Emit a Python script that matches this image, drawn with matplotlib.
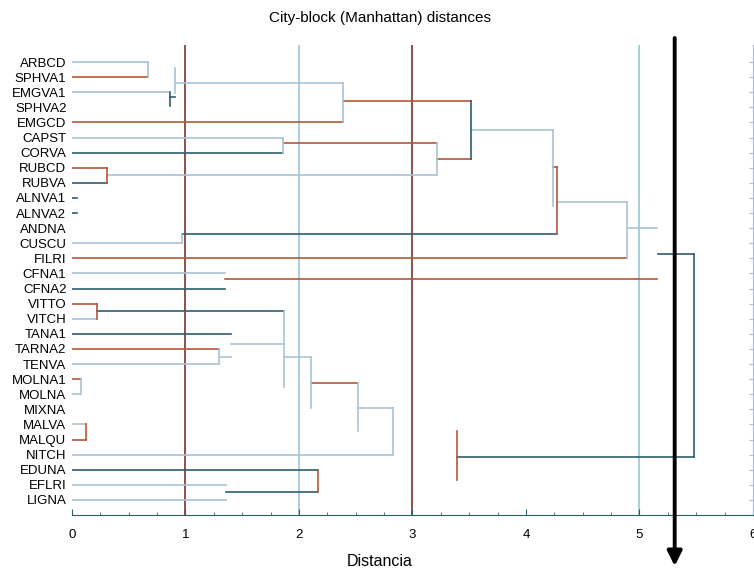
import matplotlib
matplotlib.use("Agg")
import matplotlib.pyplot as plt
from matplotlib.ticker import MultipleLocator

plt.rcParams['font.family'] = ['Liberation Sans', 'DejaVu Sans']

# leaves, top to bottom, and the distance at which each leaf line ends
labels = ['ARBCD', 'SPHVA1', 'EMGVA1', 'SPHVA2', 'EMGCD', 'CAPST', 'CORVA',
          'RUBCD', 'RUBVA', 'ALNVA1', 'ALNVA2', 'ANDNA', 'CUSCU', 'FILRI',
          'CFNA1', 'CFNA2', 'VITTO', 'VITCH', 'TANA1', 'TARNA2', 'TENVA',
          'MOLNA1', 'MOLNA', 'MIXNA', 'MALVA', 'MALQU', 'NITCH', 'EDUNA',
          'EFLRI', 'LIGNA']
leaf_dist = [0.667, 0.667, 0.846, 0.0, 2.388, 1.859, 1.859,
             0.308, 0.308, 0.04, 0.04, 0.0, 0.967, 4.887,
             1.348, 1.348, 0.218, 0.218, 1.398, 1.298, 1.298,
             0.079, 0.079, 0.0, 0.120, 0.120, 2.830, 2.170,
             1.357, 1.357]
leaf_col = 'lrllrldrddddlrldrldrlrlllrldll'

# horizontal links: (leaf position, from distance, to distance)
links_h = [(2.32, 0.864, 0.907), (1.37, 0.907, 2.388), (2.58, 2.388, 3.515),
           (6.42, 3.212, 3.515), (5.38, 1.859, 3.212), (7.48, 0.308, 3.212),
           (4.50, 3.515, 4.235), (6.97, 4.235, 4.273), (11.39, 0.967, 4.273),
           (9.25, 4.273, 4.887), (11.01, 4.887, 5.152), (12.72, 5.161, 5.483),
           (26.14, 3.395, 5.483), (14.39, 1.348, 5.152), (16.47, 0.218, 1.868),
           (19.52, 1.298, 1.398), (18.70, 1.398, 1.868), (19.52, 1.868, 2.103),
           (21.28, 2.103, 2.522), (22.89, 2.522, 2.830), (28.50, 1.357, 2.170)]
links_h_col = 'dlrrrllrdllddrd' + 'lllrld'

# vertical links: (distance, from position, to position)
links_v = [(0.667, 0, 1), (0.864, 1.99, 2.91), (0.907, 0.40, 2.05),
           (2.388, 1.37, 4), (3.515, 2.58, 6.42), (3.212, 5.38, 7.44),
           (1.859, 5, 6), (0.308, 7, 8), (4.235, 4.50, 9.52),
           (4.273, 6.97, 11.39), (0.967, 11.39, 12), (4.887, 9.25, 13),
           (5.483, 12.72, 26.14), (3.395, 24.42, 27.68), (0.218, 16, 17),
           (1.868, 16.47, 21.50), (1.298, 19, 20), (2.103, 19.52, 22.93),
           (2.522, 21.28, 24.42), (2.830, 22.89, 26), (0.079, 21, 22),
           (0.120, 24, 25), (2.170, 27, 28.50)]
links_v_col = 'ldlldllrlrlldrrllllllrr'

ref_lines = [1, 2, 3, 5]
ref_col = 'rlrl'
cut_distance = 5.31

colors = {'r': '#b5573a', 'd': '#2f5d6e', 'l': '#a9c5d3'}
ref_colors = {'r': '#7d3426', 'l': '#9ec3d6'}

fig = plt.figure(figsize=(7.54, 5.71), dpi=100)
ax = fig.add_axes([72 / 754, 1 - 515 / 571, 681 / 754, 470 / 571])

for xv, c in zip(ref_lines, ref_col):
    ax.axvline(xv, color=ref_colors[c], lw=1.2, zorder=1)

for i, (d, c) in enumerate(zip(leaf_dist, leaf_col)):
    if d > 0:
        ax.plot([0, d], [i, i], color=colors[c], lw=1.2, zorder=2)

for (y, x0, x1), c in zip(links_h, links_h_col):
    ax.plot([x0, x1], [y, y], color=colors[c], lw=1.2, zorder=2)

for (x, y0, y1), c in zip(links_v, links_v_col):
    ax.plot([x, x], [y0, y1], color=colors[c], lw=1.2, zorder=2)

ax.set_xlim(0, 6)
ax.set_ylim(30.0, -1.13)
ax.set_yticks(range(len(labels)))
ax.set_yticklabels(labels, fontsize=9.5)
ax.tick_params(axis='y', left=False, right=True, direction='in', length=3,
               color='#9ec3d6', pad=4, labelcolor='black')
ax.xaxis.set_major_locator(MultipleLocator(1))
ax.xaxis.set_minor_locator(MultipleLocator(0.25))
ax.tick_params(axis='x', which='major', direction='in', length=4,
               color='#2f5d6e', labelsize=9.5, pad=10)
ax.tick_params(axis='x', which='minor', direction='in', length=2,
               color='#2f5d6e')

for side in ['top', 'left']:
    ax.spines[side].set_visible(False)
ax.spines['right'].set_color('#9ec3d6')
ax.spines['bottom'].set_color('#2f5d6e')

fig.text(380 / 754, 1 - 18 / 571, 'City-block (Manhattan) distances',
         ha='center', va='center', fontsize=11)
fig.text(380 / 754, 1 - 562 / 571, 'Distancia', ha='center', va='center',
         fontsize=11.5)

ax.annotate('', xy=(cut_distance, 1 - 566 / 571),
            xytext=(cut_distance, 1 - 38 / 571),
            xycoords=('data', 'figure fraction'),
            textcoords=('data', 'figure fraction'),
            arrowprops=dict(arrowstyle='-|>', lw=2.8, color='black',
                            mutation_scale=22, shrinkA=0, shrinkB=0),
            annotation_clip=False)

fig.savefig('out.png', dpi=100)
